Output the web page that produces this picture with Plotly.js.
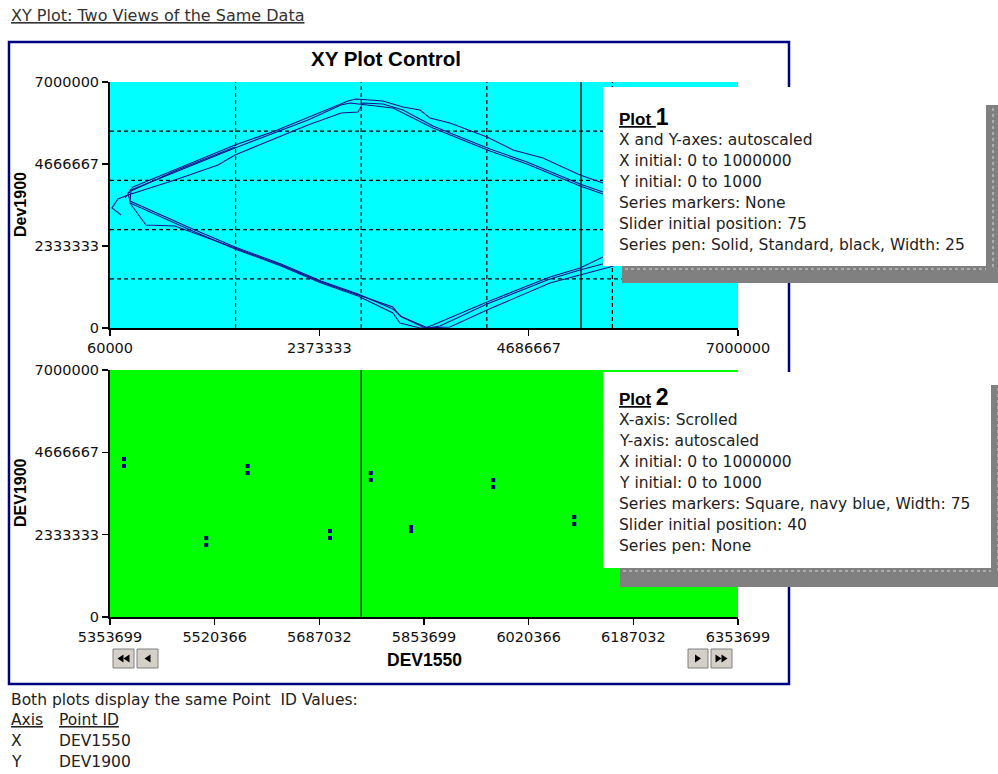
<!DOCTYPE html>
<html>
<head>
<meta charset="utf-8">
<script src="https://cdn.plot.ly/plotly-3.0.1.min.js"></script>
<style>html,body{margin:0;padding:0;background:#fff;}#chart{width:998px;height:774px;}</style>
</head>
<body>
<div id="chart"></div>
<script>
// ---------- Plot 1 data (DEV1550 vs Dev1900), three passes of the loop ----------
const pass1X = [182000, 82000, 148000, 259000, 778000, 1254000, 1441000, 2248000, 2613000, 2801000, 2856000, 3077000, 3298000, 3629000, 3928000, 4259000, 4668000, 5066000, 5254000, 5508000, 6138000, 7000000, 6138000, 5586000, 5254000, 4922000, 4226000, 3817000, 3486000, 3265000, 3187000, 2801000, 2392000, 1950000, 1441000, 922000, 281000, 292000, 778000, 1441000];
const pass1Y = [3215000, 3415000, 3671000, 3785000, 4211000, 4638000, 4923000, 5776000, 6118000, 6146000, 6402000, 6374000, 6203000, 5748000, 5435000, 5093000, 4724000, 4297000, 4098000, 3870000, 3415000, 2789000, 2219000, 1736000, 1508000, 1280000, 512000, 28000, 0, 142000, 427000, 911000, 1280000, 1764000, 2248000, 2817000, 3557000, 3898000, 4467000, 5150000];

const pass2X = [281000, 458000, 778000, 1441000, 1950000, 2392000, 2856000, 3187000, 3265000, 3541000, 3629000, 4226000, 4558000, 4922000, 5254000, 5508000, 6249000, 7000000, 6249000, 5508000, 5254000, 5066000, 4668000, 4259000, 3928000, 3629000, 3187000, 2933000, 2712000, 2613000, 2248000, 1441000, 292000, 226000];
const pass2Y = [3557000, 2931000, 2902000, 2276000, 1793000, 1309000, 882000, 598000, 341000, 0, 85000, 740000, 1081000, 1451000, 1707000, 2020000, 2504000, 3016000, 3500000, 3813000, 4041000, 4240000, 4667000, 5037000, 5378000, 5691000, 6260000, 6345000, 6402000, 6345000, 5919000, 5122000, 3927000, 3699000];

const pass3X = [314000, 778000, 1441000, 1883000, 2690000, 2779000, 3077000, 3298000, 3486000, 3596000, 3817000, 4226000, 4514000, 4845000, 5254000, 5508000, 6249000, 6912000, 6470000, 5586000, 5254000, 4922000, 4226000, 3707000, 3574000, 3287000, 3187000, 2801000, 2392000, 1950000, 1441000, 922000, 281000, 259000, 314000];
const pass3Y = [4012000, 4496000, 5207000, 5606000, 6459000, 6516000, 6459000, 6289000, 6203000, 5976000, 5833000, 5435000, 5065000, 4837000, 4354000, 4126000, 3642000, 3215000, 2561000, 1878000, 1650000, 1394000, 683000, 57000, 0, 313000, 541000, 967000, 1337000, 1821000, 2305000, 2874000, 3614000, 3841000, 4012000];

// ---------- Plot 2 data (scrolled window) ----------
const plot2X = [5376000, 5376000, 5507000, 5507000, 5573000, 5573000, 5704000, 5704000, 5769000, 5769000, 5833000, 5833000, 5964000, 5964000, 6093000, 6093000];
const plot2Y = [4478000, 4279000, 2239000, 2040000, 4279000, 4081000, 2437000, 2239000, 4081000, 3883000, 2551000, 2437000, 3883000, 3684000, 2834000, 2636000];

// ---------- Axis ticks ----------
const plot1XTicks = [60000, 2373333, 4686667, 7000000];
const plotYTicks = [0, 2333333, 4666667, 7000000];
const plot2XTicks = [5353699, 5520366, 5687032, 5853699, 6020366, 6187032, 6353699];
const plot1XRange = [60000, 7000000];
const plot2XRange = [5353699, 6353699];
const yRange = [0, 7000000];

// ---------- Texts ----------
const headerText = 'XY Plot: Two Views of the Same Data';
const controlTitle = 'XY Plot Control';
const plot1Lines = ['X and Y-axes: autoscaled', 'X initial: 0 to 1000000', 'Y initial: 0 to 1000', 'Series markers: None', 'Slider initial position: 75', 'Series pen: Solid, Standard, black, Width: 25'];
const plot2Lines = ['X-axis: Scrolled', 'Y-axis: autoscaled', 'X initial: 0 to 1000000', 'Y initial: 0 to 1000', 'Series markers: Square, navy blue, Width: 75', 'Slider initial position: 40', 'Series pen: None'];
const footerLines = ['Both plots display the same Point  ID Values:'];
const axisCol = ['<u>Axis</u>', 'X', 'Y'];
const pointCol = ['<u>Point ID</u>', 'DEV1550', 'DEV1900'];
const slider1 = 0.75, slider2 = 0.40;

// ---------- helpers for layout placement (page pixels -> paper) ----------
const W = 998, H = 774;
const fx = p => p / W;
const fy = p => 1 - p / H;

const NAVY = '#12128f';
const lineStyle = {color: NAVY, width: 1.1};
const traces = [
  {x: pass1X, y: pass1Y, type: 'scatter', mode: 'lines', line: lineStyle, xaxis: 'x', yaxis: 'y', hoverinfo: 'skip'},
  {x: pass2X, y: pass2Y, type: 'scatter', mode: 'lines', line: lineStyle, xaxis: 'x', yaxis: 'y', hoverinfo: 'skip'},
  {x: pass3X, y: pass3Y, type: 'scatter', mode: 'lines', line: lineStyle, xaxis: 'x', yaxis: 'y', hoverinfo: 'skip'},
  {x: plot2X, y: plot2Y, type: 'scatter', mode: 'markers', marker: {symbol: 'square', size: 4, color: '#000080', line: {width: 0}}, xaxis: 'x2', yaxis: 'y2', hoverinfo: 'skip'}
];

const tickFont = {family: 'DejaVu Sans', size: 14.5, color: '#111'};
function axisBase(extra) {
  return Object.assign({
    showgrid: false, zeroline: false, showline: true, linecolor: '#000', linewidth: 2,
    ticks: 'outside', ticklen: 6, tickwidth: 1.5, tickcolor: '#000',
    tickfont: tickFont, tickmode: 'array', fixedrange: true
  }, extra);
}
const dom1Y = [fy(328), fy(82)];
const dom2Y = [fy(617), fy(370)];
const domX = [fx(110), fx(738)];

const shapes = [];
// plot backgrounds
shapes.push({type: 'rect', xref: 'x domain', yref: 'y domain', x0: 0, x1: 1, y0: 0, y1: 1, fillcolor: '#00ffff', line: {width: 0}, layer: 'below'});
shapes.push({type: 'rect', xref: 'x2 domain', yref: 'y2 domain', x0: 0, x1: 1, y0: 0, y1: 1, fillcolor: '#00ff00', line: {width: 0}, layer: 'below'});
// dashed grid on plot 1 (5 divisions)
for (let i = 1; i < 5; i++) {
  shapes.push({type: 'line', xref: 'x domain', yref: 'y domain', x0: i / 5, x1: i / 5, y0: 0, y1: 1, line: {color: '#000', width: 1.2, dash: '4px,3px'}, layer: 'below'});
  shapes.push({type: 'line', xref: 'x domain', yref: 'y domain', x0: 0, x1: 1, y0: i / 5, y1: i / 5, line: {color: '#000', width: 1.2, dash: '4px,3px'}, layer: 'below'});
}
// slider lines
shapes.push({type: 'line', xref: 'x domain', yref: 'y domain', x0: slider1, x1: slider1, y0: 0, y1: 1, line: {color: '#000', width: 1.3}, layer: 'below'});
shapes.push({type: 'line', xref: 'x2 domain', yref: 'y2 domain', x0: slider2, x1: slider2, y0: 0, y1: 1, line: {color: '#000', width: 1.3}, layer: 'below'});
// outer control frame
shapes.push({type: 'rect', xref: 'paper', yref: 'paper', x0: fx(9), x1: fx(789), y0: fy(684), y1: fy(42), line: {color: '#000080', width: 2.5}, fillcolor: 'rgba(0,0,0,0)', layer: 'above'});
// info boxes with shadows
function infoBox(l, t, r, b, sl, st, sb) {
  shapes.push({type: 'rect', xref: 'paper', yref: 'paper', x0: fx(sl), x1: fx(998), y0: fy(sb), y1: fy(st), fillcolor: '#808080', line: {width: 0}, layer: 'above'});
  shapes.push({type: 'line', xref: 'paper', yref: 'paper', x0: fx(sl + 3), x1: fx(r), y0: fy(b + 3), y1: fy(b + 3), line: {color: '#d8d8d8', width: 1, dash: 'dot'}, layer: 'above'});
  shapes.push({type: 'line', xref: 'paper', yref: 'paper', x0: fx(r + 7), x1: fx(r + 7), y0: fy(st + 3), y1: fy(b + 3), line: {color: '#d8d8d8', width: 1, dash: 'dot'}, layer: 'above'});
  shapes.push({type: 'rect', xref: 'paper', yref: 'paper', x0: fx(l), x1: fx(r), y0: fy(b), y1: fy(t), fillcolor: '#ffffff', line: {width: 0}, layer: 'above'});
}
infoBox(603, 87, 986, 266, 622, 105, 283);
infoBox(603, 372, 991, 568, 620, 385, 587);
// scroll buttons
function button(l, r, dir, dbl) {
  const t = 649, b = 668;
  shapes.push({type: 'rect', xref: 'paper', yref: 'paper', x0: fx(l), x1: fx(r), y0: fy(b), y1: fy(t), fillcolor: '#d4d0c8', line: {color: '#808080', width: 1}, layer: 'above'});
  const cx = (l + r) / 2, cy = (t + b) / 2;
  const offs = dbl ? [-3, 3] : [0];
  offs.forEach(o => {
    const tip = cx + o + (dir < 0 ? -3 : 3), base = cx + o + (dir < 0 ? 3 : -3);
    shapes.push({type: 'path', xref: 'paper', yref: 'paper',
      path: `M ${fx(tip)} ${fy(cy)} L ${fx(base)} ${fy(cy - 4)} L ${fx(base)} ${fy(cy + 4)} Z`,
      fillcolor: '#000', line: {width: 0}, layer: 'above'});
  });
}
button(113, 134, -1, true);
button(137, 158, -1, false);
button(688, 708, 1, false);
button(711, 732, 1, true);

const annotations = [];
const txt = (x, y, text, font, extra) => annotations.push(Object.assign({xref: 'paper', yref: 'paper', x: fx(x), y: fy(y), text: text, showarrow: false, font: font, xanchor: 'left', yanchor: 'middle', align: 'left'}, extra || {}));
const bodyFont = {family: 'DejaVu Sans', size: 15.5, color: '#222'};
txt(9, 15, '<u>' + headerText + '</u>', {family: 'DejaVu Sans', size: 16, color: '#333'});
txt(386, 58, '<b>' + controlTitle + '</b>', {family: 'Liberation Sans, Arial', size: 20.5, color: '#000'}, {xanchor: 'center'});
txt(21, 205, '<b>Dev1900</b>', {family: 'Liberation Sans, Arial', size: 16, color: '#000'}, {xanchor: 'center', textangle: -90});
txt(21, 493, '<b>DEV1900</b>', {family: 'Liberation Sans, Arial', size: 16, color: '#000'}, {xanchor: 'center', textangle: -90});
txt(424, 660, '<b>DEV1550</b>', {family: 'Liberation Sans, Arial', size: 17.5, color: '#000'}, {xanchor: 'center'});
// info box texts
txt(617, 117, '<b><u>Plot </u></b><b><span style="font-size:23px">1</span></b>', {family: 'Liberation Sans, Arial', size: 17, color: '#000'});
plot1Lines.forEach((s, i) => txt(617, 140 + i * 21, s, bodyFont));
txt(617, 397, '<b><u>Plot</u> </b><b><span style="font-size:23px">2</span></b>', {family: 'Liberation Sans, Arial', size: 17, color: '#000'});
plot2Lines.forEach((s, i) => txt(617, 420 + i * 21, s, bodyFont));
// footer
txt(9, 700, footerLines[0], bodyFont);
axisCol.forEach((s, i) => txt(9, 720 + i * 21, s, bodyFont));
pointCol.forEach((s, i) => txt(57, 720 + i * 21, s, bodyFont));

const layout = {
  width: W, height: H, margin: {l: 0, r: 0, t: 0, b: 0},
  paper_bgcolor: '#ffffff', plot_bgcolor: 'rgba(0,0,0,0)', showlegend: false,
  xaxis: axisBase({domain: domX, range: plot1XRange, anchor: 'y', tickvals: plot1XTicks, ticktext: plot1XTicks.map(String)}),
  yaxis: axisBase({domain: dom1Y, range: yRange, anchor: 'x', tickvals: plotYTicks, ticktext: plotYTicks.map(String)}),
  xaxis2: axisBase({domain: domX, range: plot2XRange, anchor: 'y2', tickvals: plot2XTicks, ticktext: plot2XTicks.map(String)}),
  yaxis2: axisBase({domain: dom2Y, range: yRange, anchor: 'x2', tickvals: plotYTicks, ticktext: plotYTicks.map(String)}),
  shapes: shapes, annotations: annotations
};
Plotly.newPlot('chart', traces, layout, {staticPlot: true, displayModeBar: false});
</script>
</body>
</html>
